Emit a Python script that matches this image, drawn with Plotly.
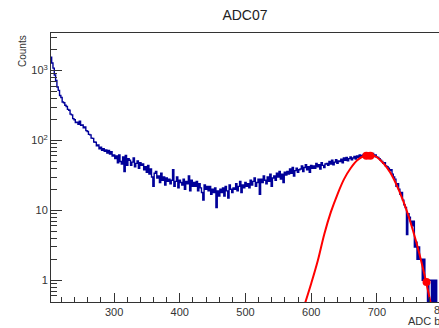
import plotly.graph_objects as go

# ---------------- data ----------------
title_text = "ADC07"
x_title = "ADC bins"
y_title = "Counts"

bin_lo = 203
bin_width = 2
counts = [
    1550, 1280, 1080, 860, 720, 580, 520, 440, 410, 355,
    345, 318, 305, 278, 270, 238, 232, 205, 198, 180,
    182, 170, 188, 165, 166, 152, 156, 138, 134, 122,
    120, 108, 107, 95, 94, 84, 86, 76, 80, 72,
    76, 70, 73, 66, 72, 64, 69, 60, 62, 55,
    60, 48, 62, 50, 46, 58, 36, 61, 44, 55,
    52, 44, 49, 56, 42, 47, 51, 40, 48, 44,
    46, 38, 42, 35, 44, 33, 39, 30, 22, 34,
    36, 29, 31, 25, 34, 27, 30, 23, 29, 26,
    28, 24, 27, 38, 22, 26, 30, 21, 27, 25,
    23, 28, 20, 26, 24, 31, 19, 27, 22, 25,
    22, 26, 19, 24, 21, 18, 14, 23, 20, 22,
    19, 22, 17, 20, 18, 21, 11, 19, 16, 20,
    18, 21, 16, 22, 19, 15, 23, 20, 18, 21,
    20, 24, 19, 22, 26, 18, 23, 21, 25, 22,
    24, 21, 27, 23, 26, 29, 22, 25, 28, 17,
    28, 25, 31, 27, 24, 30, 26, 33, 22, 29,
    31, 27, 34, 30, 36, 28, 33, 25, 35, 32,
    36, 33, 39, 34, 41, 31, 37, 40, 35, 38,
    39, 43, 36, 41, 45, 38, 42, 35, 44, 40,
    43, 40, 47, 42, 45, 39, 48, 44, 41, 46,
    47, 44, 50, 46, 52, 45, 49, 53, 47, 51,
    50, 54, 48, 56, 52, 57, 51, 55, 58, 53,
    56, 59, 54, 60, 57, 62, 58, 61, 63, 59,
    62, 66, 60, 64, 61, 65, 59, 62, 58, 57,
    55, 52, 50, 47, 48, 43, 42, 40, 37, 38,
    33, 30, 28, 22, 24, 20, 17, 18, 14, 12,
    11, 4.5, 9, 8, 7, 6, 7, 3, 3.5, 2,
    3, 2, 2, 1, 2, 1, 1, 0, 1, 1,
    0, 1, 0, 1, 0, 0,
]

fit_x = [590, 600, 610, 620, 630, 640, 650, 660, 670, 680, 688, 695,
         700, 710, 720, 730, 740, 750, 760, 770, 780, 790]
fit_y = [0.45, 0.9, 1.9, 4.6, 9.5, 17, 28, 40, 52, 60, 62, 60.3,
         57.5, 47, 35, 23, 13.7, 7.3, 3.5, 1.5, 0.57, 0.2]

marker_x = [684, 690, 775.5]
marker_y = [60.5, 60.5, 0.95]

x_tick_vals = [300, 400, 500, 600, 700]
y_tick_vals = [1, 10, 100, 1000]
y_tick_text = ["1", "10", "10<sup>2</sup>", "10<sup>3</sup>"]
y_minor_vals = [0.5, 0.6, 0.7, 0.8, 0.9,
                2, 3, 4, 5, 6, 7, 8, 9,
                20, 30, 40, 50, 60, 70, 80, 90,
                200, 300, 400, 500, 600, 700, 800, 900,
                2000, 3000]

# ---------------- build step histogram ----------------
edges = [bin_lo + i * bin_width for i in range(len(counts) + 1)]
step_x = edges
step_y = [c if c > 0 else 0.01 for c in counts] + [counts[-1] if counts[-1] > 0 else 0.01]

FONT = "Liberation Sans, Arial, sans-serif"
AX = "#333333"

fig = go.Figure()
fig.add_trace(go.Scatter(
    x=step_x, y=step_y, mode="lines", line=dict(color="#000099", width=1.4, shape="hv"),
    showlegend=False, hoverinfo="skip"))
fig.add_trace(go.Scatter(
    x=fit_x, y=fit_y, mode="lines", line=dict(color="#ff0000", width=2, shape="spline"),
    showlegend=False, hoverinfo="skip"))
fig.add_trace(go.Scatter(
    x=marker_x, y=marker_y, mode="markers", marker=dict(color="#ff0000", size=8),
    showlegend=False, hoverinfo="skip"))

fig.update_layout(
    width=439, height=328,
    margin=dict(l=51, r=0, t=33, b=26),
    paper_bgcolor="white", plot_bgcolor="white",
    font=dict(family=FONT, color=AX),
    hovermode=False,
    title=dict(text=title_text, x=245 / 439, xref="container", xanchor="center",
               y=1 - 15 / 328, yref="container", yanchor="middle",
               font=dict(size=14, color="#222222", family=FONT)),
)
fig.update_xaxes(
    range=[204, 794.5], showgrid=False, zeroline=False,
    showline=True, linecolor=AX, linewidth=1, mirror=True,
    tickmode="array", tickvals=x_tick_vals,
    ticks="inside", ticklen=9, tickcolor=AX, tickwidth=1,
    tickfont=dict(size=11, color=AX, family=FONT),
    minor=dict(ticks="inside", ticklen=5, tickcolor=AX, dtick=20, tick0=200, showgrid=False),
)
fig.update_yaxes(
    type="log", range=[-0.31, 3.536], showgrid=False, zeroline=False,
    showline=True, linecolor=AX, linewidth=1,
    tickmode="array", tickvals=y_tick_vals, ticktext=y_tick_text,
    ticks="inside", ticklen=11, tickcolor=AX, tickwidth=1,
    tickfont=dict(size=11, color=AX, family=FONT),
    minor=dict(ticks="inside", ticklen=6, tickcolor=AX, tickmode="array",
               tickvals=y_minor_vals, showgrid=False),
)

fig.add_annotation(text=x_title, xref="paper", yref="paper",
                   x=(406 - 51) / 388, y=(302 - 321) / 269, xanchor="left", yanchor="middle",
                   showarrow=False, font=dict(size=11, color=AX, family=FONT))
fig.add_annotation(text="800", xref="paper", yref="paper",
                   x=(442.8 - 51) / 388, y=(302 - 310) / 269, xanchor="center", yanchor="middle",
                   showarrow=False, font=dict(size=11, color=AX, family=FONT))
fig.add_annotation(text=y_title, xref="paper", yref="paper", textangle=-90,
                   x=(22 - 51) / 388, y=(302 - 33) / 269, xanchor="center", yanchor="top",
                   showarrow=False, font=dict(size=10, color=AX, family=FONT))

fig.write_html(
    "out.html",
    config={"displayModeBar": False, "staticPlot": True},
    post_script="document.body.style.margin='0';document.body.style.overflow='hidden';",
)
